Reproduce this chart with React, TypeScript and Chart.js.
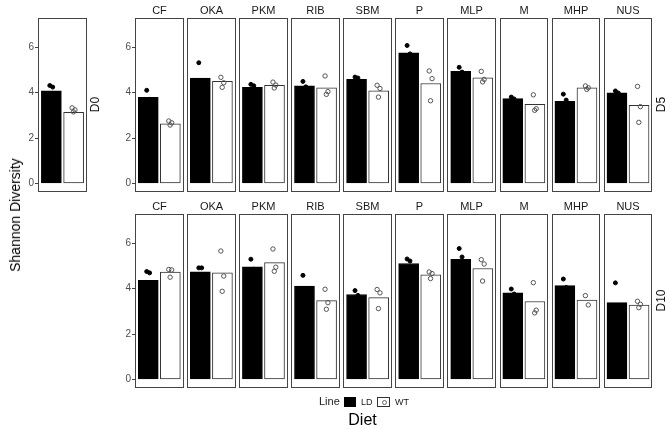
import React, { useEffect, useRef } from 'react';
import { Chart, registerables } from 'chart.js';

Chart.register(...registerables);

// ---------- data ----------
const DIETS = ['CF', 'OKA', 'PKM', 'RIB', 'SBM', 'P', 'MLP', 'M', 'MHP', 'NUS'];
const LINES = ['LD', 'WT'];
const Y_TICKS = [0, 2, 4, 6];

// Day 0
const D0_LD_MEAN = [4.08];
const D0_WT_MEAN = [3.13];
const D0_LD_PTS = [[4.31, 4.24, 3.7]];
const D0_WT_PTS = [[3.33, 3.24, 3.15]];

// Day 5
const D5_LD_MEAN = [3.79, 4.64, 4.23, 4.3, 4.58, 5.75, 4.93, 3.73, 3.61, 3.99];
const D5_WT_MEAN = [2.63, 4.49, 4.32, 4.21, 4.08, 4.4, 4.65, 3.48, 4.21, 3.44];
const D5_LD_PTS = [
  [4.1, 3.7, 3.57], [5.31, 4.4, 4.21], [4.36, 4.3, 4.03], [4.49, 4.25, 4.16], [4.68, 4.64, 4.42],
  [6.07, 5.7, 5.48], [5.11, 4.9, 4.78], [3.8, 3.72, 3.67], [3.93, 3.67, 3.23], [4.07, 3.98, 3.92],
];
const D5_WT_PTS = [
  [2.75, 2.67, 2.57], [4.67, 4.43, 4.23], [4.46, 4.33, 4.2], [4.73, 4.04, 3.92], [4.32, 4.18, 3.8],
  [4.95, 4.61, 3.64], [4.93, 4.58, 4.47], [3.9, 3.29, 3.22], [4.29, 4.21, 4.14], [4.27, 3.38, 2.69],
];

// Day 10
const D10_LD_MEAN = [4.36, 4.73, 4.95, 4.11, 3.74, 5.1, 5.29, 3.81, 4.13, 3.38];
const D10_WT_MEAN = [4.72, 4.69, 5.14, 3.47, 3.6, 4.6, 4.88, 3.43, 3.49, 3.27];
const D10_LD_PTS = [
  [4.75, 4.69, 3.64], [4.91, 4.91, 4.37], [5.29, 4.85, 4.71], [4.58, 3.95, 3.8], [3.91, 3.7, 3.61],
  [5.3, 5.21, 4.79], [5.76, 5.39, 4.72], [3.98, 3.76, 3.69], [4.42, 4.05, 3.92], [4.25, 3.02, 2.87],
];
const D10_WT_PTS = [
  [4.84, 4.82, 4.5], [5.65, 4.55, 3.88], [5.74, 4.94, 4.76], [3.97, 3.38, 3.09], [3.96, 3.81, 3.12],
  [4.73, 4.66, 4.44], [5.27, 5.08, 4.33], [4.26, 3.05, 2.93], [3.69, 3.28], [3.44, 3.31, 3.16],
];

// ---------- layout / style constants ----------
const FONT = "'Liberation Sans', Arial, sans-serif";
const Y_MIN = -0.35;
const Y_MAX = 7.3;
const PITCH = 2.3575; // x-units from one facet start to the next
const SPAN = 2.2; // facet width in x-units (0.4 .. 2.6 around positions 1, 2)
const JITTER = [-0.07, 0.06, -0.01];

type Box = { left: number; top: number; width: number; height: number };
type Pad = { left: number; right: number; top: number; bottom: number };

type PanelProps = {
  labels: string[];
  ld: number[];
  wt: number[];
  ldPts: number[][];
  wtPts: number[][];
  rowLabel: string;
  box: Box;
  pad: Pad;
};

function PanelChart(props: PanelProps) {
  const ref = useRef<HTMLCanvasElement>(null);
  useEffect(() => {
    const { labels, ld, wt, ldPts, wtPts, rowLabel, pad } = props;
    const n = ld.length;
    const barData: { x: number; y: number }[] = [];
    const bg: string[] = [];
    const bc: string[] = [];
    for (let k = 0; k < n; k++) {
      barData.push({ x: k * PITCH + 0.6, y: ld[k] });
      bg.push('#000000');
      bc.push('#000000');
      barData.push({ x: k * PITCH + 1.6, y: wt[k] });
      bg.push('#ffffff');
      bc.push('#333333');
    }
    const ldScatter = ldPts.flatMap((arr, k) => arr.map((v, i) => ({ x: k * PITCH + 0.6 + JITTER[i], y: v })));
    const wtScatter = wtPts.flatMap((arr, k) => arr.map((v, i) => ({ x: k * PITCH + 1.6 + JITTER[i], y: v })));

    const panelPlugin = {
      id: 'facetPanels',
      afterDatasetsDraw(chart: any) {
        const { ctx, chartArea, scales } = chart;
        const xs = scales.x;
        ctx.save();
        ctx.strokeStyle = '#444444';
        ctx.lineWidth = 1;
        const y0 = Math.round(chartArea.top) + 0.5;
        const y1 = Math.round(chartArea.bottom) - 0.5;
        for (let k = 0; k < n; k++) {
          const x0 = Math.round(xs.getPixelForValue(k * PITCH)) + 0.5;
          const x1 = Math.round(xs.getPixelForValue(k * PITCH + SPAN)) - 0.5;
          ctx.strokeRect(x0, y0, x1 - x0, y1 - y0);
          if (labels[k]) {
            ctx.fillStyle = '#1a1a1a';
            ctx.font = `11px ${FONT}`;
            ctx.textAlign = 'center';
            ctx.textBaseline = 'middle';
            ctx.fillText(labels[k], (x0 + x1) / 2, chartArea.top - 7);
          }
        }
        ctx.translate(chartArea.right + 9, (chartArea.top + chartArea.bottom) / 2);
        ctx.rotate(-Math.PI / 2);
        ctx.fillStyle = '#111111';
        ctx.font = `12px ${FONT}`;
        ctx.textAlign = 'center';
        ctx.textBaseline = 'middle';
        ctx.fillText(rowLabel, 0, 0);
        ctx.restore();
      },
    };

    const chart = new Chart(ref.current as HTMLCanvasElement, {
      type: 'bar',
      data: {
        datasets: [
          {
            type: 'scatter',
            label: LINES[0] + ' points',
            data: ldScatter,
            backgroundColor: '#000000',
            borderColor: '#000000',
            borderWidth: 1,
            pointRadius: 2,
            order: 0,
          } as any,
          {
            type: 'scatter',
            label: LINES[1] + ' points',
            data: wtScatter,
            backgroundColor: 'rgba(255,255,255,0)',
            borderColor: '#555555',
            borderWidth: 1,
            pointRadius: 2.2,
            order: 0,
          } as any,
          {
            type: 'bar',
            label: 'mean',
            data: barData,
            backgroundColor: bg,
            borderColor: bc,
            borderWidth: 1,
            borderSkipped: false,
            barThickness: 20,
            order: 1,
          } as any,
        ],
      },
      options: {
        animation: false,
        responsive: false,
        devicePixelRatio: 1,
        layout: { padding: pad },
        plugins: { legend: { display: false }, tooltip: { enabled: false } },
        scales: {
          x: {
            type: 'linear',
            min: 0,
            max: (n - 1) * PITCH + SPAN,
            offset: false,
            display: false,
            grid: { offset: false },
          },
          y: {
            type: 'linear',
            min: Y_MIN,
            max: Y_MAX,
            afterBuildTicks: (s: any) => {
              s.ticks = Y_TICKS.map((v) => ({ value: v }));
            },
            afterFit: (s: any) => {
              s.width = 20;
            },
            grid: { drawOnChartArea: false, drawTicks: true, tickLength: 3, color: '#444444' },
            border: { display: false },
            ticks: { color: '#4d4d4d', font: { size: 10, family: FONT }, padding: 1 },
          },
        },
      } as any,
      plugins: [panelPlugin],
    });
    return () => chart.destroy();
  }, []);
  const { box } = props;
  return (
    <canvas
      ref={ref}
      width={box.width}
      height={box.height}
      style={{ position: 'absolute', left: box.left, top: box.top, width: box.width, height: box.height, display: 'block' }}
    />
  );
}

export default function App() {
  const rowPad: Pad = { left: 5, right: 16.7, top: 17.5, bottom: 13.5 };
  const d0Pad: Pad = { left: 18, right: 23, top: 17.5, bottom: 13.5 };
  return (
    <div
      style={{
        position: 'absolute',
        left: 0,
        top: 0,
        width: 669,
        height: 430,
        background: '#ffffff',
        fontFamily: FONT,
        overflow: 'hidden',
      }}
    >
      <PanelChart
        labels={['']}
        ld={D0_LD_MEAN}
        wt={D0_WT_MEAN}
        ldPts={D0_LD_PTS}
        wtPts={D0_WT_PTS}
        rowLabel="D0"
        box={{ left: 0, top: 0, width: 110, height: 205 }}
        pad={d0Pad}
      />
      <PanelChart
        labels={DIETS}
        ld={D5_LD_MEAN}
        wt={D5_WT_MEAN}
        ldPts={D5_LD_PTS}
        wtPts={D5_WT_PTS}
        rowLabel="D5"
        box={{ left: 110, top: 0, width: 559, height: 205 }}
        pad={rowPad}
      />
      <PanelChart
        labels={DIETS}
        ld={D10_LD_MEAN}
        wt={D10_WT_MEAN}
        ldPts={D10_LD_PTS}
        wtPts={D10_WT_PTS}
        rowLabel="D10"
        box={{ left: 110, top: 195.7, width: 559, height: 205 }}
        pad={rowPad}
      />
      {/* y axis title */}
      <div
        style={{
          position: 'absolute',
          left: 15,
          top: 215,
          transform: 'translate(-50%, -50%) rotate(-90deg)',
          whiteSpace: 'nowrap',
          fontSize: 14,
          color: '#000',
        }}
      >
        Shannon Diversity
      </div>
      {/* legend */}
      <div style={{ position: 'absolute', left: 319, top: 395, fontSize: 11, lineHeight: '13px', color: '#1a1a1a' }}>Line</div>
      <div style={{ position: 'absolute', left: 344, top: 397, width: 12, height: 10, background: '#000' }} />
      <div style={{ position: 'absolute', left: 361, top: 396, fontSize: 9, lineHeight: '12px', color: '#1a1a1a' }}>{LINES[0]}</div>
      <div
        style={{
          position: 'absolute',
          left: 377,
          top: 397,
          width: 11,
          height: 8,
          border: '1px solid #333',
          background: '#fff',
        }}
      >
        <div
          style={{
            position: 'absolute',
            left: 3.5,
            top: 2,
            width: 3,
            height: 3,
            borderRadius: '50%',
            border: '1px solid #666',
          }}
        />
      </div>
      <div style={{ position: 'absolute', left: 395, top: 396, fontSize: 9, lineHeight: '12px', color: '#1a1a1a' }}>{LINES[1]}</div>
      {/* x axis title */}
      <div
        style={{
          position: 'absolute',
          left: 362.5,
          top: 420,
          transform: 'translate(-50%, -50%)',
          whiteSpace: 'nowrap',
          fontSize: 16,
          color: '#000',
        }}
      >
        Diet
      </div>
    </div>
  );
}
